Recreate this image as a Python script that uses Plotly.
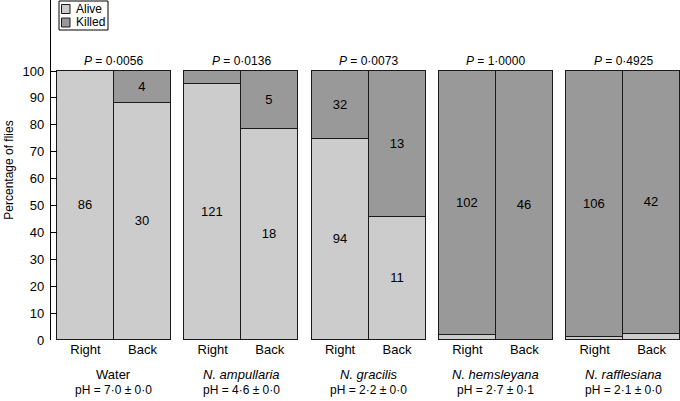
import plotly.graph_objects as go

categories = ["Water", "N. ampullaria", "N. gracilis", "N. hemsleyana", "N. rafflesiana"]
italic = [False, True, True, True, True]
sides = ["Right", "Back"]
alive_right = [86, 121, 94, 2, 1]
killed_right = [0, 6, 32, 102, 106]
alive_back = [30, 18, 11, 0, 1]
killed_back = [4, 5, 13, 46, 42]
p_values = ["0·0056", "0·0136", "0·0073", "1·0000", "0·4925"]
ph_values = ["7·0 ± 0·0", "4·6 ± 0·0", "2·2 ± 0·0", "2·7 ± 0·1", "2·1 ± 0·0"]
y_ticks = [0, 10, 20, 30, 40, 50, 60, 70, 80, 90, 100]

STEP = 2.233
FONT = "Liberation Sans, Arial, sans-serif"
COLORS = {"Alive": "#cccccc", "Killed": "#999999"}
EDGE = "#1a1a1a"

xs, alive_pct, killed_pct, alive_txt, killed_txt = [], [], [], [], []
for i in range(len(categories)):
    for j, (a, k) in enumerate([(alive_right[i], killed_right[i]), (alive_back[i], killed_back[i])]):
        tot = a + k
        ap = a / tot * 100
        kp = k / tot * 100
        xs.append(i * STEP + 0.5 + j)
        alive_pct.append(ap)
        killed_pct.append(kp)
        alive_txt.append(str(a) if ap >= 10 else "")
        killed_txt.append(str(k) if kp >= 10 else "")

fig = go.Figure()
for name, vals, txt in [("Alive", alive_pct, alive_txt), ("Killed", killed_pct, killed_txt)]:
    fig.add_trace(go.Bar(x=xs, y=vals, name=name, width=1,
                         marker=dict(color=COLORS[name], line=dict(color=EDGE, width=1.2)),
                         text=txt, textposition="inside", insidetextanchor="middle",
                         textfont=dict(color="black", size=13, family=FONT),
                         constraintext="none", hoverinfo="skip", showlegend=False))

annotations = []
shapes = []
for i, cat in enumerate(categories):
    cx = i * STEP + 1.0
    annotations.append(dict(x=cx, y=103.8, xref="x", yref="y", showarrow=False,
                            text="<i>P</i> = " + p_values[i], yanchor="middle",
                            font=dict(size=12, family=FONT, color="black")))
    label = "<i>" + cat + "</i>" if italic[i] else cat
    annotations.append(dict(x=cx, y=-0.1, xref="x", yref="paper", showarrow=False,
                            text=label, yanchor="middle",
                            font=dict(size=13, family=FONT, color="black")))
    annotations.append(dict(x=cx, y=-0.147, xref="x", yref="paper", showarrow=False,
                            text="pH = " + ph_values[i], yanchor="middle",
                            font=dict(size=12, family=FONT, color="black")))

# custom compact legend (paper coordinates from pixel positions)
L, W, B, H = 51, 629, 340, 340
def px(x):
    return (x - L) / W
def py(y):
    return (B - y) / H

shapes.append(dict(type="rect", xref="paper", yref="paper", x0=px(59), x1=px(108),
                   y0=py(30), y1=py(1), line=dict(color="black", width=1), fillcolor="white"))
for n, name in enumerate(["Alive", "Killed"]):
    top = 4.5 + n * 13.5
    shapes.append(dict(type="rect", xref="paper", yref="paper", x0=px(61.5), x1=px(70),
                       y0=py(top + 9), y1=py(top), line=dict(color=EDGE, width=1),
                       fillcolor=COLORS[name]))
    annotations.append(dict(x=px(73.5), y=py(top + 4.5), xref="paper", yref="paper",
                            showarrow=False, text=name, xanchor="left", yanchor="middle",
                            font=dict(size=12, family=FONT, color="black")))

tickvals = xs
ticktext = [sides[k % 2] for k in range(len(xs))]

fig.update_layout(
    width=680, height=401,
    margin=dict(l=51, r=0, t=0, b=61),
    paper_bgcolor="white", plot_bgcolor="white",
    barmode="stack", bargap=0,
    font=dict(family=FONT, color="black", size=12),
    showlegend=False,
    xaxis=dict(range=[-0.105, 10.93], tickvals=tickvals, ticktext=ticktext,
               showgrid=False, zeroline=False, showline=False, ticks="",
               tickfont=dict(size=13, family=FONT), automargin=False),
    yaxis=dict(range=[0, 126.4], tickvals=y_ticks, showgrid=False, zeroline=False,
               showline=True, linecolor="black", linewidth=1.2,
               ticks="inside", ticklen=6, tickcolor="black", tickwidth=1.2,
               tickfont=dict(size=13, family=FONT), ticklabelstandoff=3,
               title=dict(text="Percentage of flies", font=dict(size=12, family=FONT), standoff=6),
               automargin=False),
    annotations=annotations,
    shapes=shapes,
)

fig.write_html("out.html", config={"displayModeBar": False},
               post_script="document.body.style.margin='0';document.body.style.overflow='hidden';")
